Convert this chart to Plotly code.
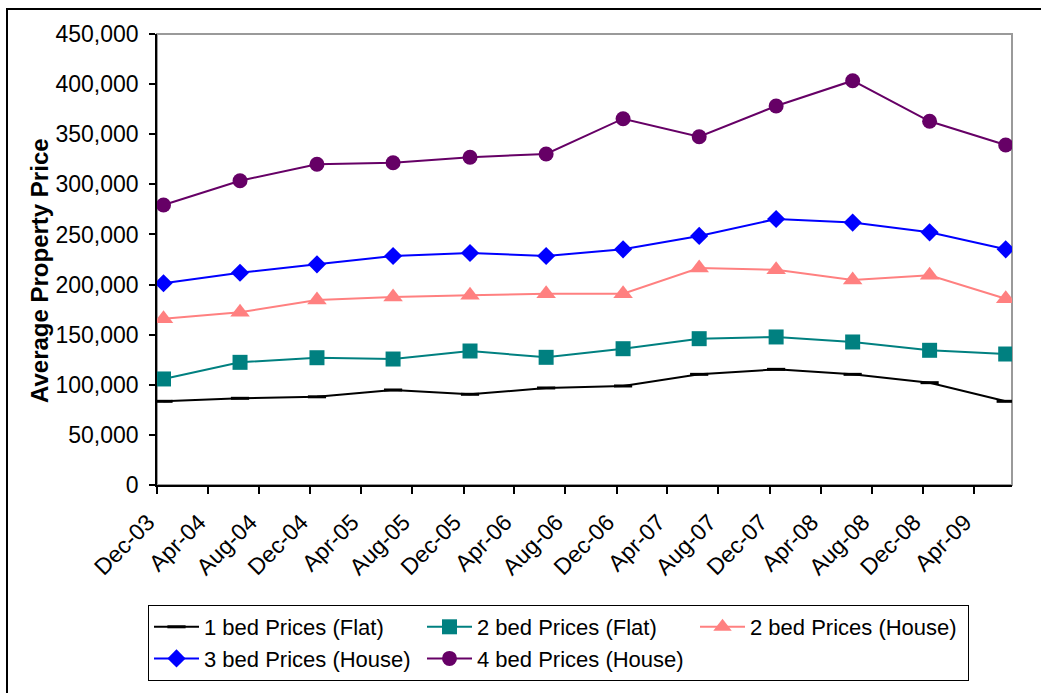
import plotly.graph_objects as go

# Survey months (one reading every six months)
months = ["2003-12-01", "2004-06-01", "2004-12-01", "2005-06-01", "2005-12-01", "2006-06-01",
          "2006-12-01", "2007-06-01", "2007-12-01", "2008-06-01", "2008-12-01", "2009-06-01"]

# Average property prices by size / type
one_bed_flat = [83500, 86500, 88000, 94800, 90500, 96800, 98800, 110400, 115400, 110400, 102100, 83500]
two_bed_flat = [105800, 122400, 127000, 125700, 133700, 127400, 136000, 146000, 147700, 142700, 134400, 130700]
two_bed_house = [165900, 172300, 184600, 187600, 189300, 190900, 190900, 216500, 214800, 204500, 209200, 185900]
three_bed_house = [201300, 211800, 220200, 228500, 231500, 228500, 235200, 248500, 265400, 261800, 252100, 235200]
four_bed_house = [279400, 303600, 320000, 321600, 327000, 330300, 365500, 347500, 378200, 403400, 362900, 339300]

series_names = ["1 bed Prices (Flat)", "2 bed Prices (Flat)", "2 bed Prices (House)",
                "3 bed Prices (House)", "4 bed Prices (House)"]

FONT = "Liberation Sans, Arial, sans-serif"

styles = [
    dict(color="#000000", symbol="line-ew", size=13, lw=3),
    dict(color="#008080", symbol="square", size=15, lw=0),
    dict(color="#FF8080", symbol="triangle-up", size=17, lw=0),
    dict(color="#0000FF", symbol="diamond", size=14, lw=0),
    dict(color="#660066", symbol="circle", size=15, lw=0),
]
values = [one_bed_flat, two_bed_flat, two_bed_house, three_bed_house, four_bed_house]

fig = go.Figure()
for name, vals, st in zip(series_names, values, styles):
    fig.add_trace(go.Scatter(
        x=months, y=vals, name=name, mode="lines+markers",
        xperiod="M1", xperiodalignment="middle",
        line=dict(color=st["color"], width=2),
        marker=dict(symbol=st["symbol"], size=st["size"], color=st["color"],
                    line=dict(color=st["color"], width=st["lw"])),
    ))

W, H = 1041, 693
L, R, T, B = 157, 1012, 34, 485
pw, ph = R - L, B - T

def px_x(px):
    return (px - L) / pw

def px_y(py):
    return (B - py) / ph

fig.update_layout(
    width=W, height=H,
    margin=dict(l=L, r=W - R, t=T, b=H - B, pad=0, autoexpand=False),
    paper_bgcolor="white", plot_bgcolor="white",
    font=dict(family=FONT, size=22, color="black"),
    showlegend=True,
    legend=dict(
        orientation="h", x=px_x(148), y=px_y(605), xanchor="left", yanchor="top",
        bordercolor="black", borderwidth=1, bgcolor="white",
        font=dict(family=FONT, size=22, color="black"),
        itemwidth=45, entrywidth=213, entrywidthmode="pixels",
        traceorder="normal",
    ),
    xaxis=dict(
        type="date", range=["2003-12-01", "2009-07-01"],
        tick0="2003-12-01", dtick="M4", tickformat="%b-%y", tickangle=-45,
        showgrid=False, zeroline=False,
        showline=True, linecolor="black", linewidth=1.5,
        ticks="outside", ticklen=7, tickcolor="black", tickwidth=1.5,
        ticklabelstandoff=6, ticklabelshift=-9,
        tickfont=dict(family=FONT, size=23, color="black"),
    ),
    yaxis=dict(
        range=[0, 450000], tick0=0, dtick=50000, tickformat=",d",
        showgrid=False, zeroline=False,
        showline=True, linecolor="black", linewidth=1.5,
        ticks="outside", ticklen=6, tickcolor="black", tickwidth=1.5,
        ticklabelstandoff=6,
        tickfont=dict(family=FONT, size=23, color="black"),
    ),
    shapes=[
        # plot-area frame (top and right edges show in grey)
        dict(type="rect", xref="paper", yref="paper", x0=0, x1=1, y0=0, y1=1,
             line=dict(color="#9a9a9a", width=2), layer="below"),
        # chart-area frame
        dict(type="rect", xref="paper", yref="paper",
             x0=px_x(7), x1=px_x(1060), y0=px_y(720), y1=px_y(9),
             line=dict(color="black", width=2), layer="below"),
    ],
    annotations=[
        dict(text="<b>Average Property Price</b>", textangle=-90,
             xref="paper", yref="paper", x=px_x(39), y=px_y(271),
             xanchor="center", yanchor="middle", showarrow=False,
             font=dict(family=FONT, size=24, color="black")),
    ],
)

fig.write_html("out.html")
